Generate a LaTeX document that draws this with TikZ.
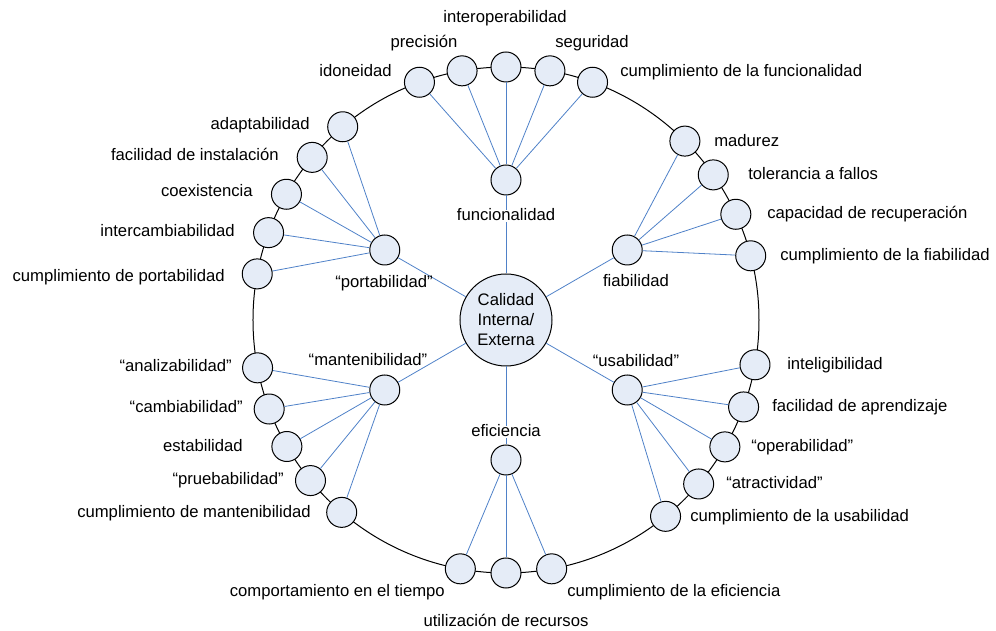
\documentclass[tikz,border=0pt]{standalone}
\usepackage{fontspec}
\setmainfont{Liberation Sans}
\usepackage{tikz}
\definecolor{spokeblue}{RGB}{79,129,200}
\definecolor{bubble}{RGB}{229,236,247}

\begin{document}
\begin{tikzpicture}[x=0.75pt, y=0.75pt,
  every node/.style={font=\fontsize{12.5}{15}\selectfont},
  leaf/.style={circle, draw, line width=0.75pt, fill=bubble, minimum size=22.5pt, inner sep=0pt},
  core/.style={circle, draw, line width=0.75pt, fill=bubble, minimum size=69pt, inner sep=0pt, align=center},
  spoke/.style={draw=spokeblue, line width=0.6pt},
  txt/.style={inner xsep=0pt, inner ysep=1pt, text height=0.72em, text depth=0.05em},
  mask/.style={txt, fill=white}]

\useasboundingbox (-506,-311) rectangle (490,320);

\draw[line width=0.75pt] (0,0) circle [radius=189.75pt];

\node[core] (Q) at (0,0) {Calidad\\Interna/\\Externa};

\node[leaf] (F) at (90:140) {};
\node[leaf] (R) at (30:140) {};
\node[leaf] (U) at (-30:140) {};
\node[leaf] (E) at (-90:140) {};
\node[leaf] (M) at (210:140) {};
\node[leaf] (P) at (150:140) {};

\node[leaf] (F1) at (110:253) {};
\node[leaf] (F2) at (100:253) {};
\node[leaf] (F3) at (90:253) {};
\node[leaf] (F4) at (80:253) {};
\node[leaf] (F5) at (70:253) {};

\node[leaf] (R1) at (45:253) {};
\node[leaf] (R2) at (35:253) {};
\node[leaf] (R3) at (24.7:253) {};
\node[leaf] (R4) at (14.7:253) {};

\node[leaf] (U1) at (-10.2:253) {};
\node[leaf] (U2) at (-20.1:253) {};
\node[leaf] (U3) at (-30.1:253) {};
\node[leaf] (U4) at (-40.4:253) {};
\node[leaf] (U5) at (-50.9:253) {};

\node[leaf] (E1) at (-100.4:253) {};
\node[leaf] (E2) at (-90:253) {};
\node[leaf] (E3) at (-79.6:253) {};

\node[leaf] (M1) at (190.9:253) {};
\node[leaf] (M2) at (200.6:253) {};
\node[leaf] (M3) at (210:253) {};
\node[leaf] (M4) at (219.4:253) {};
\node[leaf] (M5) at (229.5:253) {};

\node[leaf] (P1) at (130.2:253) {};
\node[leaf] (P2) at (140:253) {};
\node[leaf] (P3) at (150.2:253) {};
\node[leaf] (P4) at (159.8:253) {};
\node[leaf] (P5) at (169.5:253) {};

\draw[spoke] (Q) -- (F);
\draw[spoke] (Q) -- (R);
\draw[spoke] (Q) -- (U);
\draw[spoke] (Q) -- (E);
\draw[spoke] (Q) -- (M);
\draw[spoke] (Q) -- (P);

\draw[spoke] (F) -- (F1);
\draw[spoke] (F) -- (F2);
\draw[spoke] (F) -- (F3);
\draw[spoke] (F) -- (F4);
\draw[spoke] (F) -- (F5);
\draw[spoke] (R) -- (R1);
\draw[spoke] (R) -- (R2);
\draw[spoke] (R) -- (R3);
\draw[spoke] (R) -- (R4);
\draw[spoke] (U) -- (U1);
\draw[spoke] (U) -- (U2);
\draw[spoke] (U) -- (U3);
\draw[spoke] (U) -- (U4);
\draw[spoke] (U) -- (U5);
\draw[spoke] (E) -- (E1);
\draw[spoke] (E) -- (E2);
\draw[spoke] (E) -- (E3);
\draw[spoke] (M) -- (M1);
\draw[spoke] (M) -- (M2);
\draw[spoke] (M) -- (M3);
\draw[spoke] (M) -- (M4);
\draw[spoke] (M) -- (M5);
\draw[spoke] (P) -- (P1);
\draw[spoke] (P) -- (P2);
\draw[spoke] (P) -- (P3);
\draw[spoke] (P) -- (P4);
\draw[spoke] (P) -- (P5);

\node[mask] (tF) at (0,104) {funcionalidad};
\node[txt, anchor=east] (tF1) at (-114,248) {idoneidad};
\node[txt] (tF2) at (-82,277) {precisión};
\node[txt] (tF3) at (-1,302) {interoperabilidad};
\node[txt] (tF4) at (86,277) {seguridad};
\node[txt, anchor=west] (tF5) at (114,248) {cumplimiento de la funcionalidad};

\node[txt] (tR) at (130,38) {fiabilidad};
\node[txt, anchor=west] (tR1) at (208,178) {madurez};
\node[txt, anchor=west] (tR2) at (242,145) {tolerancia a fallos};
\node[txt, anchor=west] (tR3) at (261,106) {capacidad de recuperación};
\node[txt, anchor=west] (tR4) at (274,64) {cumplimiento de la fiabilidad};

\node[txt] (tU) at (130,-42) {“usabilidad”};
\node[txt, anchor=west] (tU1) at (281,-45) {inteligibilidad};
\node[txt, anchor=west] (tU2) at (266,-87) {facilidad de aprendizaje};
\node[txt, anchor=west] (tU3) at (245,-127) {“operabilidad”};
\node[txt, anchor=west] (tU4) at (220,-164) {“atractividad”};
\node[txt, anchor=west] (tU5) at (184,-197) {cumplimiento de la usabilidad};

\node[mask] (tE) at (0,-112) {eficiencia};
\node[txt, anchor=east] (tE1) at (-61,-272) {comportamiento en el tiempo};
\node[txt] (tE2) at (0,-302) {utilización de recursos};
\node[txt, anchor=west] (tE3) at (61,-272) {cumplimiento de la eficiencia};

\node[txt] (tM) at (-138,-41) {“mantenibilidad”};
\node[txt, anchor=east] (tM1) at (-274,-47) {“analizabilidad”};
\node[txt, anchor=east] (tM2) at (-263,-88) {“cambiabilidad”};
\node[txt, anchor=east] (tM3) at (-263,-127) {estabilidad};
\node[txt, anchor=east] (tM4) at (-222,-160) {“pruebabilidad”};
\node[txt, anchor=east] (tM5) at (-195,-193) {cumplimiento de mantenibilidad};

\node[txt] (tP) at (-122,37) {“portabilidad”};
\node[txt, anchor=east] (tP1) at (-196,195) {adaptabilidad};
\node[txt, anchor=east] (tP2) at (-227,164) {facilidad de instalación};
\node[txt, anchor=east] (tP3) at (-253,128) {coexistencia};
\node[txt, anchor=east] (tP4) at (-271,88) {intercambiabilidad};
\node[txt, anchor=east] (tP5) at (-281,43) {cumplimiento de portabilidad};

\end{tikzpicture}
\end{document}
